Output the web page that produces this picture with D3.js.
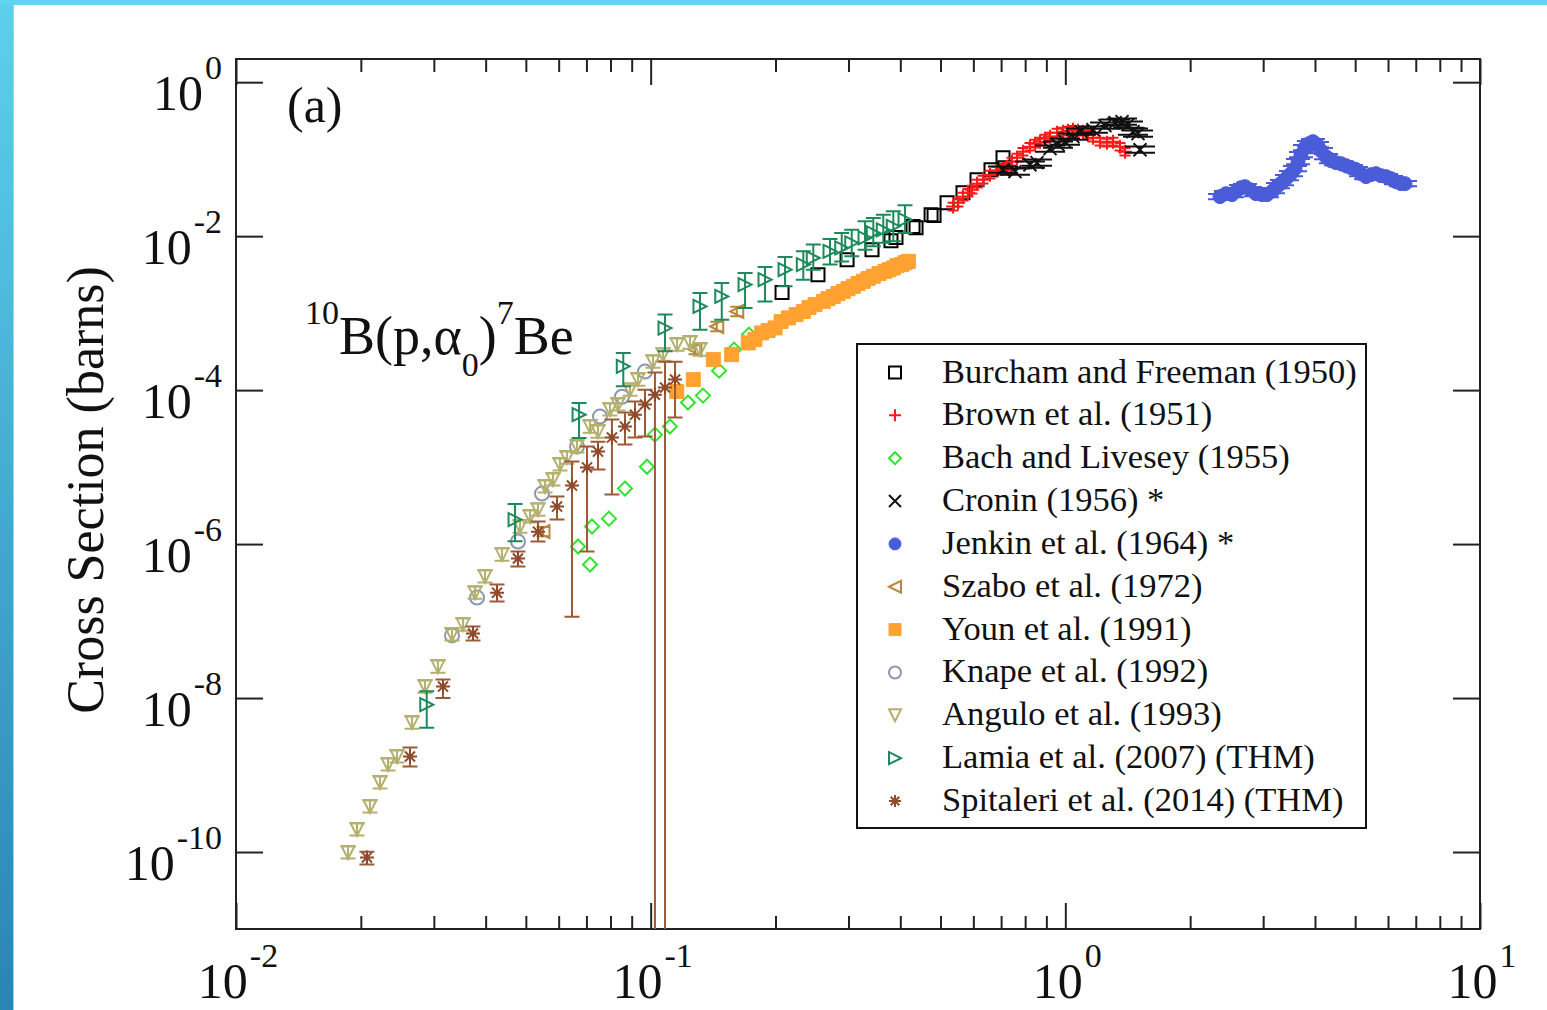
<!DOCTYPE html>
<html>
<head>
<meta charset="utf-8">
<script src="https://cdn.jsdelivr.net/npm/d3@7/dist/d3.min.js"></script>
<style>
  html, body { margin: 0; padding: 0; background: #fff; }
  svg { display: block; }
  text { font-family: "Liberation Serif", "Times New Roman", serif; fill: #111; }
</style>
</head>
<body>
<script>
'use strict';

// ---- data: [energy (MeV), cross section (b)] ----
const burcham = [[0.2074,1.85e-3],[0.2532,3.16e-3],[0.2976,4.95e-3],[0.3418,6.68e-3],[0.3798,8.74e-3],[0.3905,9.57e-3],
  [0.4292,1.33e-2],[0.4365,1.29e-2],[0.4745,1.90e-2],[0.4824,1.85e-2],[0.5185,2.72e-2],[0.5665,3.67e-2],
  [0.6124,5.42e-2],[0.6618,7.31e-2],[0.7075,0.1046],[0.7154,7.76e-2]];

const brown = [[0.5361,2.42e-2],[0.5512,2.72e-2],[0.5665,3.26e-2],[0.5825,3.67e-2],[0.5955,4.02e-2],[0.6124,4.81e-2],
  [0.6331,5.42e-2],[0.6581,6.29e-2],[0.6842,7.10e-2],[0.7035,7.53e-2],[0.7233,7.99e-2],[0.7437,9.28e-2],
  [0.7645,0.1046],[0.7904,0.1251],[0.8217,0.1453],[0.8451,0.1590],[0.8688,0.1688],[0.8933,0.1846],
  [0.9184,0.1960],[0.9548,0.2209],[0.9872,0.2276],[1.015,0.2345],[1.043,0.2416],[1.073,0.2345],
  [1.103,0.2276],[1.134,0.2081],[1.166,0.1903],[1.212,0.1688],[1.260,0.1638],[1.303,0.1688],
  [1.355,0.1453],[1.393,0.1251]];

const bach = [[0.06682,9.3e-7],[0.07141,5.42e-7],[0.07220,1.69e-6],[0.07932,2.14e-6],[0.0867,5.26e-6],[0.09797,1.01e-5],
  [0.1024,2.64e-5],[0.1113,3.36e-5],[0.1230,6.89e-5],[0.1337,8.49e-5],[0.1462,1.79e-4],[0.1589,3.36e-4],[0.1726,5.26e-4]];

const cronin = [[0.7075,7.31e-2],[0.7562,6.88e-2],[0.8217,8.48e-2],[0.8545,9.01e-2],[0.9184,0.1369],[0.9601,0.1543],
  [0.9982,0.1688],[1.043,0.1960],[1.091,0.2276],[1.166,0.2416],[1.246,0.2723],[1.318,0.2979],[1.370,0.3069],
  [1.416,0.2806],[1.456,0.2276],[1.497,0.2144],[1.514,0.1328]];

const jenkin = [[2.360,3.26e-2],[2.440,3.56e-2],[2.523,3.46e-2],[2.594,3.90e-2],[2.652,4.26e-2],[2.712,4.39e-2],
  [2.788,4.02e-2],[2.883,3.56e-2],[2.980,3.46e-2],[3.064,3.46e-2],[3.168,3.90e-2],[3.257,4.53e-2],[3.330,4.95e-2],
  [3.424,5.75e-2],[3.501,6.48e-2],[3.580,7.53e-2],[3.640,9.28e-2],[3.701,0.1144],[3.784,0.1411],[3.868,0.1590],
  [3.955,0.1688],[4.044,0.1543],[4.135,0.1290],[4.251,0.1077],[4.370,9.57e-2],[4.494,9.01e-2],[4.620,8.74e-2],
  [4.750,8.24e-2],[4.884,7.76e-2],[5.023,7.31e-2],[5.164,6.48e-2],[5.310,5.93e-2],[5.459,6.29e-2],[5.613,6.48e-2],
  [5.771,6.10e-2],[5.934,5.93e-2],[6.101,5.58e-2],[6.272,5.10e-2],[6.450,4.81e-2],[6.594,4.81e-2]];

const szabo = [[0.055,1.45e-6],[0.1279,3.36e-4],[0.1443,6.7e-4],[0.1613,1.05e-3]];

const youn = [[0.1156,9.6e-5],[0.1267,1.37e-4],[0.1416,2.49e-4],[0.1568,2.89e-4],[0.1719,4.1e-4],[0.1784,4.53e-4],
  [0.1852,5.53e-4],[0.1919,5.93e-4],[0.1995,6.42e-4],[0.2063,7.76e-4],[0.2148,8.67e-4],[0.2242,9.57e-4],
  [0.2334,1.05e-3],[0.2409,1.18e-3],[0.2491,1.29e-3],[0.2608,1.42e-3],[0.2677,1.54e-3],[0.2757,1.65e-3],
  [0.2830,1.79e-3],[0.2915,1.92e-3],[0.2992,2.08e-3],[0.3082,2.23e-3],[0.3162,2.42e-3],[0.3257,2.59e-3],
  [0.3343,2.81e-3],[0.3443,3.01e-3],[0.3553,3.26e-3],[0.3673,3.49e-3],[0.3755,3.67e-3],[0.3847,3.86e-3],
  [0.3926,4.14e-3],[0.4030,4.27e-3],[0.4106,4.53e-3],[0.4182,4.71e-3]];

const knape = [[0.03318,6.5e-8],[0.03813,2.02e-7],[0.04786,1.08e-6],[0.0547,4.53e-6],[0.06643,1.85e-5],
  [0.07547,4.53e-5],[0.08527,8.2e-5],[0.0969,1.74e-4]];

const angulo = [[0.01863,9.86e-11],[0.01958,1.96e-10],[0.02104,3.9e-10],[0.02225,8.0e-10],[0.02326,1.37e-9],
  [0.02445,1.74e-9],[0.02658,4.8e-9],[0.02856,1.41e-8],[0.03069,2.56e-8],[0.03318,6.7e-8],[0.03527,9.0e-8],
  [0.03771,2.34e-7],[0.03986,3.79e-7],[0.04381,7.3e-7],[0.04841,1.69e-6],[0.05117,2.28e-6],[0.05350,2.8e-6],
  [0.05562,5.6e-6],[0.05815,6.9e-6],[0.06043,1.08e-5],[0.06283,1.33e-5],[0.06643,1.85e-5],[0.07141,3.36e-5],
  [0.07464,2.89e-5],[0.07976,5.6e-5],[0.08338,6.5e-5],[0.08915,1.01e-4],[0.09320,1.37e-4],[0.1013,2.34e-4],
  [0.1071,2.89e-4],[0.1158,3.9e-4],[0.1244,4.14e-4],[0.1315,3.36e-4]];

// [energy, sigma, lower, upper]
const lamia = [[0.02884,8.2e-9,4.1e-9,1.23e-8],[0.04709,2.08e-6,1.09e-6,3.31e-6],[0.06719,4.8e-5,2.39e-5,6.8e-5],
  [0.0859,2.04e-4,1.12e-4,3.04e-4],[0.1083,6.4e-4,3.19e-4,9.6e-4],[0.1315,1.22e-3,6.1e-4,1.83e-3],
  [0.1484,1.65e-3,8.2e-4,2.47e-3],[0.1689,2.35e-3,1.17e-3,3.33e-3],[0.1887,2.72e-3,1.42e-3,3.98e-3],
  [0.2109,3.67e-3,2.23e-3,5.37e-3],[0.2334,4.27e-3,2.72e-3,6.35e-3],[0.2467,5.2e-3,3.67e-3,7.76e-3],
  [0.2707,6.35e-3,4.27e-3,9.2e-3],[0.2889,7.03e-3,4.7e-3,1.1e-2],[0.3054,8.2e-3,5.47e-3,1.21e-2],
  [0.3288,9.5e-3,6.68e-3,1.56e-2],[0.3443,1.1e-2,7.37e-3,1.72e-2],[0.3639,1.21e-2,8.2e-3,1.9e-2],
  [0.3847,1.34e-2,8.56e-3,2.1e-2],[0.4106,1.64e-2,1.1e-2,2.51e-2]];

const spitaleri = [[0.02069,8.5e-11,6.9e-11,1.01e-10],[0.02628,1.74e-9,1.29e-9,2.28e-9],[0.03156,1.41e-8,1.0e-8,1.74e-8],
  [0.03728,6.9e-8,5.6e-8,8.5e-8],[0.04261,2.34e-7,1.79e-7,2.98e-7],[0.04786,6.5e-7,5.1e-7,8.0e-7],
  [0.0535,1.45e-6,1.08e-6,1.96e-6],[0.05945,3.07e-6,2.08e-6,4.14e-6],[0.0646,5.75e-6,1.14e-7,1.18e-5],
  [0.07023,9.9e-6,8.0e-7,1.85e-5],[0.07464,1.59e-5,9.3e-6,2.14e-5],[0.08065,2.42e-5,4.4e-6,4.14e-5],
  [0.0867,3.36e-5,1.96e-5,5.1e-5],[0.09167,4.8e-5,2.42e-5,7.1e-5],[0.0969,6.5e-5,2.49e-5,1.01e-4],
  [0.1024,8.7e-5,1e-14,1.69e-4],[0.1083,1.08e-4,1e-14,2.34e-4],[0.1145,1.37e-4,4.4e-5,2.34e-4]];

// relative errors of the sets with small error bars
const relErr = { angulo: 0.2, brown: 0.12, cronin: 0.1, jenkin: 0.08, szabo: 0.15 };

const legendLabels = ["Burcham and Freeman (1950)", "Brown et al. (1951)", "Bach and Livesey (1955)",
  "Cronin (1956) *", "Jenkin et al. (1964) *", "Szabo et al. (1972)", "Youn et al. (1991)",
  "Knape et al. (1992)", "Angulo et al. (1993)", "Lamia et al. (2007) (THM)", "Spitaleri et al. (2014) (THM)"];

const xTickValues = [0.01, 0.1, 1, 10];
const yTickValues = [1, 1e-2, 1e-4, 1e-6, 1e-8, 1e-10];

(function () {

  // ---- styles ----
  const series = [
    { data: burcham, marker: "square", color: "#000000", fill: false, size: 6.5 },
    { data: brown, marker: "plus", color: "#ff1a1a", fill: false, size: 7, err: relErr.brown, cap: 11 },
    { data: bach, marker: "diamond", color: "#2ee52e", fill: false, size: 7 },
    { data: cronin, marker: "x", color: "#111111", fill: false, size: 6.5, err: relErr.cronin, cap: 30 },
    { data: jenkin, marker: "circle", color: "#4b5cd8", fill: true, size: 7, err: relErr.jenkin, cap: 24 },
    { data: szabo, marker: "triL", color: "#b8863c", fill: false, size: 6.5, err: relErr.szabo, cap: 13 },
    { data: youn, marker: "square", color: "#ffa232", fill: true, size: 7 },
    { data: knape, marker: "circle", color: "#8d96b0", fill: false, size: 7 },
    { data: angulo, marker: "triD", color: "#b4b06e", fill: false, size: 6.5, err: relErr.angulo, cap: 15 },
    { data: lamia, marker: "triR", color: "#1c8a5c", fill: false, size: 6.5, cap: 15 },
    { data: spitaleri, marker: "star", color: "#8e4a2a", errColor: "#9c5a38", fill: false, size: 7, cap: 15 }
  ];

  const W = 1547, H = 1010;
  const pLeft = 236, pRight = 1480, pTop = 59, pBottom = 929;

  const svg = d3.select("body").append("svg").attr("width", W).attr("height", H);

  // page frame
  const defs = svg.append("defs");
  const grad = defs.append("linearGradient").attr("id", "side").attr("x1", 0).attr("y1", 0).attr("x2", 0).attr("y2", 1);
  grad.append("stop").attr("offset", "0%").attr("stop-color", "#5dd0ec");
  grad.append("stop").attr("offset", "100%").attr("stop-color", "#2a84b5");
  defs.append("clipPath").attr("id", "plotClip").append("rect")
    .attr("x", pLeft).attr("y", pTop).attr("width", pRight - pLeft).attr("height", pBottom - pTop);

  svg.append("rect").attr("x", 0).attr("y", 0).attr("width", 13).attr("height", H).attr("fill", "url(#side)");
  svg.append("rect").attr("x", 13).attr("y", 0).attr("width", 1).attr("height", H).attr("fill", "#8fd9ee");
  svg.append("rect").attr("x", 0).attr("y", 0).attr("width", W).attr("height", 5).attr("fill", "#62d4ef");

  // scales
  const x = d3.scaleLog().domain([0.01, 10]).range([pLeft, pRight]);
  const y = d3.scaleLog().domain([1e-11, 2]).range([pBottom, pTop]);

  const xMinor = x.ticks().filter(d => !xTickValues.some(v => Math.abs(d / v - 1) < 1e-6));

  function styleAxis(g) {
    g.select(".domain").remove();
    g.selectAll("line").attr("stroke", "#222").attr("stroke-width", 2);
    g.selectAll("text").remove();
  }

  svg.append("g").attr("transform", `translate(0,${pBottom})`)
    .call(d3.axisBottom(x).tickValues(xTickValues).tickSize(-26).tickFormat("")).call(styleAxis);
  svg.append("g").attr("transform", `translate(0,${pBottom})`)
    .call(d3.axisBottom(x).tickValues(xMinor).tickSize(-13).tickFormat("")).call(styleAxis);
  svg.append("g").attr("transform", `translate(0,${pTop})`)
    .call(d3.axisTop(x).tickValues(xTickValues).tickSize(-26).tickFormat("")).call(styleAxis);
  svg.append("g").attr("transform", `translate(0,${pTop})`)
    .call(d3.axisTop(x).tickValues(xMinor).tickSize(-13).tickFormat("")).call(styleAxis);
  svg.append("g").attr("transform", `translate(${pLeft},0)`)
    .call(d3.axisLeft(y).tickValues(yTickValues).tickSize(-27).tickFormat("")).call(styleAxis);
  svg.append("g").attr("transform", `translate(${pRight},0)`)
    .call(d3.axisRight(y).tickValues(yTickValues).tickSize(-27).tickFormat("")).call(styleAxis);

  svg.append("rect").attr("x", pLeft).attr("y", pTop).attr("width", pRight - pLeft).attr("height", pBottom - pTop)
    .attr("fill", "none").attr("stroke", "#222").attr("stroke-width", 2);

  // tick labels as 10^n
  function powerLabel(sel, v) {
    const e = Math.round(Math.log10(v));
    sel.append("tspan").text("10");
    sel.append("tspan").attr("font-size", 34).attr("dy", -31).attr("dx", 2).text(e);
  }
  xTickValues.forEach(v => {
    svg.append("text").attr("x", x(v) + 2).attr("y", pBottom + 69).attr("text-anchor", "middle")
      .attr("font-size", 50).call(powerLabel, v);
  });
  yTickValues.forEach(v => {
    svg.append("text").attr("x", pLeft - 14).attr("y", y(v) + 28).attr("text-anchor", "end")
      .attr("font-size", 50).call(powerLabel, v);
  });

  // axis title and annotations
  svg.append("text").attr("transform", "translate(103,490) rotate(-90)")
    .attr("text-anchor", "middle").attr("font-size", 52).text("Cross Section (barns)");

  svg.append("text").attr("x", 287).attr("y", 122).attr("font-size", 50).text("(a)");

  const reac = svg.append("text").attr("x", 305).attr("y", 354).attr("font-size", 54);
  reac.append("tspan").attr("font-size", 34).attr("dy", -30).text("10");
  reac.append("tspan").attr("dy", 30).text("B(p,\u03b1");
  reac.append("tspan").attr("font-size", 34).attr("dy", 22).text("0");
  reac.append("tspan").attr("dy", -22).text(")");
  reac.append("tspan").attr("font-size", 34).attr("dy", -30).text("7");
  reac.append("tspan").attr("dy", 30).text("Be");

  // markers
  function markerPath(type, s) {
    switch (type) {
      case "square": return `M${-s},${-s}H${s}V${s}H${-s}Z`;
      case "plus": return `M${-s},0H${s}M0,${-s}V${s}`;
      case "x": return `M${-s},${-s}L${s},${s}M${-s},${s}L${s},${-s}`;
      case "diamond": return `M0,${-s}L${s},0L0,${s}L${-s},0Z`;
      case "circle": return `M${s},0A${s},${s} 0 1 1 ${-s},0A${s},${s} 0 1 1 ${s},0Z`;
      case "triL": return `M${-s},0L${s},${-s}L${s},${s}Z`;
      case "triR": return `M${s},0L${-s},${-s}L${-s},${s}Z`;
      case "triD": return `M${-s},${-s}L${s},${-s}L0,${s}Z`;
      case "star": {
        const d = s * 0.72;
        return `M${-s},0H${s}M0,${-s}V${s}M${-d},${-d}L${d},${d}M${-d},${d}L${d},${-d}`;
      }
    }
  }

  const plot = svg.append("g").attr("clip-path", "url(#plotClip)");

  series.forEach(s => {
    const g = plot.append("g");
    const ec = s.errColor || s.color;
    const rows = s.data.map(r => {
      if (r.length === 4) return { e: r[0], v: r[1], lo: r[2], hi: r[3] };
      if (s.err) return { e: r[0], v: r[1], lo: r[1] / (1 + s.err), hi: r[1] * (1 + s.err) };
      return { e: r[0], v: r[1] };
    });
    const withErr = rows.filter(d => d.lo !== undefined);
    const half = (s.cap || 12) / 2;
    const eg = g.append("g").attr("stroke", ec).attr("stroke-width", 2).attr("fill", "none");
    eg.selectAll(".ebar").data(withErr).join("path")
      .attr("d", d => {
        const cx = x(d.e), y1 = y(d.hi), y0 = y(d.lo);
        return `M${cx},${y1}V${y0}M${cx - half},${y1}H${cx + half}M${cx - half},${y0}H${cx + half}`;
      });
    g.selectAll(".mk").data(rows).join("path")
      .attr("transform", d => `translate(${x(d.e)},${y(d.v)})`)
      .attr("d", markerPath(s.marker, s.size))
      .attr("fill", s.fill ? s.color : "none")
      .attr("stroke", s.color)
      .attr("stroke-width", s.fill ? 1 : 2);
  });

  // legend
  const lg = svg.append("g");
  lg.append("rect").attr("x", 857).attr("y", 344).attr("width", 509).attr("height", 484)
    .attr("fill", "#fff").attr("stroke", "#111").attr("stroke-width", 2);
  series.forEach((s, i) => {
    const cy = 372.5 + i * 42.85;
    lg.append("path").attr("transform", `translate(895,${cy})`)
      .attr("d", markerPath(s.marker, 6))
      .attr("fill", s.fill ? s.color : "none")
      .attr("stroke", s.color).attr("stroke-width", s.fill ? 1 : 2);
    lg.append("text").attr("x", 942).attr("y", cy + 10).attr("font-size", 34.5).text(legendLabels[i]);
  });
})();
</script>
</body>
</html>
